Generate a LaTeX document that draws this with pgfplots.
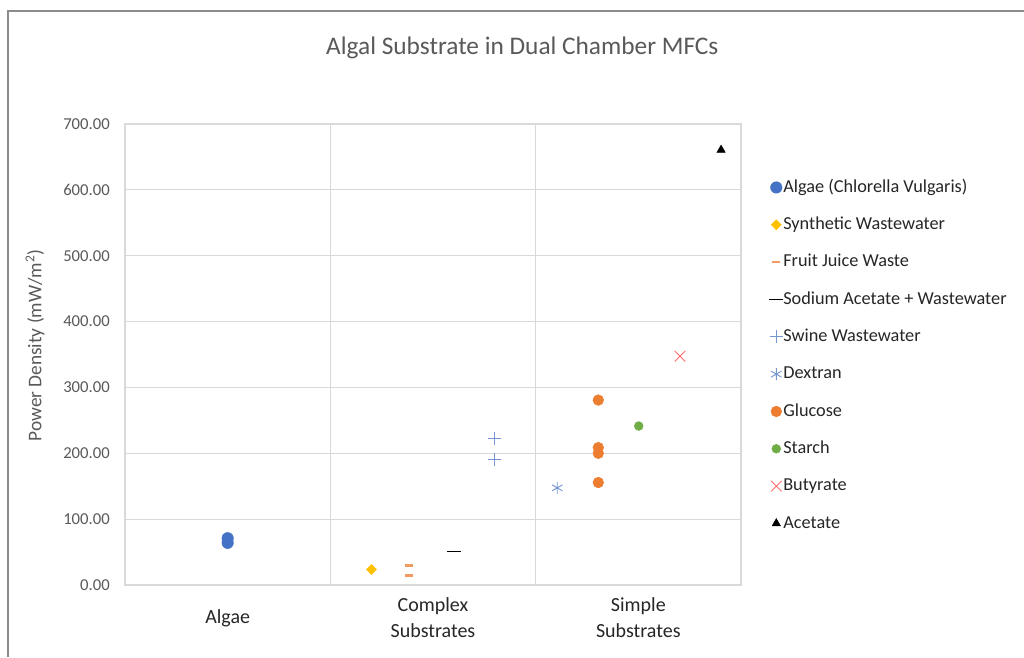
\documentclass[border=0pt]{standalone}
\usepackage{pgfplots}
\pgfplotsset{compat=1.18}
\usepackage{fontspec}
\setmainfont{Carlito}
\definecolor{gridc}{HTML}{D9D9D9}
\definecolor{txtgray}{HTML}{595959}
\definecolor{xlab}{HTML}{262626}
\definecolor{cblue}{HTML}{4472C4}
\definecolor{clblue}{HTML}{7596D2}
\definecolor{corange}{HTML}{ED7D31}
\definecolor{clorange}{HTML}{F19A62}
\definecolor{cgold}{HTML}{FFC000}
\definecolor{cgreen}{HTML}{70AD47}
\definecolor{cred}{HTML}{FF6B6B}
\definecolor{frame}{HTML}{8C8C8C}
\begin{document}
\begin{tikzpicture}
\useasboundingbox (0,0) rectangle (768pt,492.75pt);
\draw[frame, line width=0.9pt] (6pt,0pt) -- (6pt,484.5pt) -- (770pt,484.5pt);
\begin{axis}[
  at={(93.75pt,54pt)}, anchor=south west,
  width=462pt, height=345.75pt, scale only axis,
  xmin=0, xmax=3, ymin=0, ymax=700,
  xtick={0.5,1.5,2.5},
  xticklabels={Algae, Complex\\Substrates, Simple\\Substrates},
  minor xtick={1,2},
  xminorgrids=true, ymajorgrids=true,
  ytick={0,100,...,700},
  major tick length=0pt, minor tick length=0pt,
  axis line style={gridc, line width=0.9pt},
  grid style={gridc, line width=0.9pt},
  minor grid style={gridc, line width=0.9pt},
  /pgf/number format/assume math mode=true,
  yticklabel={\pgfmathprintnumber[fixed, fixed zerofill, precision=2, set thousands separator={}]{\tick}},
  yticklabel style={anchor=east, inner sep=0pt, xshift=-11.25pt, font=\fontsize{12.5}{14}\selectfont, text=txtgray},
  xticklabel style={anchor=center, align=center, yshift=-24.75pt, font=\fontsize{15}{19.5}\selectfont, text=xlab},
  ylabel={Power Density (mW/m\textsuperscript{2})},
  ylabel style={at={([xshift=-67.5pt]axis description cs:0,0.52)}, anchor=center, font=\fontsize{14.5}{16}\selectfont, text=txtgray},
  title={Algal Substrate in Dual Chamber MFCs},
  title style={at={(axis description cs:0.645,1)}, anchor=center, yshift=51pt, font=\fontsize{19}{22}\selectfont, text=txtgray},
  legend style={at={(axis description cs:1.039,0.8875)}, anchor=north west, draw=none, fill=none,
    font=\fontsize{13.7}{16}\selectfont, text=xlab, row sep=15pt,
    nodes={inner sep=0pt, text height=10pt, text depth=3pt}},
  legend cell align=left,
  legend image code/.code={\draw[mark repeat=2,mark phase=2] plot coordinates {(0pt,0pt) (6pt,0pt) (12pt,0pt)};},
  clip=false,
]
\addplot[only marks, mark=*, mark size=4.3pt, color=cblue] coordinates {(0.5,71) (0.5,64)};
\addlegendentry{Algae (Chlorella Vulgaris)}
\addplot[only marks, mark=square*, mark size=2.65pt, mark options={rotate=45}, color=cgold] coordinates {(1.2,23.5)};
\addlegendentry{Synthetic Wastewater}
\addplot[only marks, mark=-, mark size=3pt, line width=2pt, color=clorange] coordinates {(1.385,29.3) (1.385,14.1)};
\addlegendentry{Fruit Juice Waste}
\addplot[only marks, mark=-, mark size=5.25pt, line width=1.1pt, color=black] coordinates {(1.602,50.5)};
\addlegendentry{Sodium Acetate + Wastewater}
\addplot[only marks, mark=+, mark size=5pt, line width=0.75pt, color=clblue] coordinates {(1.80,222.7) (1.80,190.4)};
\addlegendentry{Swine Wastewater}
\addplot[only marks, mark=asterisk, mark size=4.5pt, line width=0.7pt, color=clblue] coordinates {(2.105,147.5)};
\addlegendentry{Dextran}
\addplot[only marks, mark=*, mark size=4pt, color=corange] coordinates {(2.305,280.8) (2.305,208.6) (2.305,200) (2.305,155.6)};
\addlegendentry{Glucose}
\addplot[only marks, mark=*, mark size=3.3pt, color=cgreen] coordinates {(2.502,241.4)};
\addlegendentry{Starch}
\addplot[only marks, mark=x, mark size=5.6pt, line width=0.7pt, color=cred] coordinates {(2.703,347.4)};
\addlegendentry{Butyrate}
\addplot[only marks, mark=triangle*, mark size=3.6pt, color=black] coordinates {(2.903,660.6)};
\addlegendentry{Acetate}
\end{axis}
\end{tikzpicture}
\end{document}
